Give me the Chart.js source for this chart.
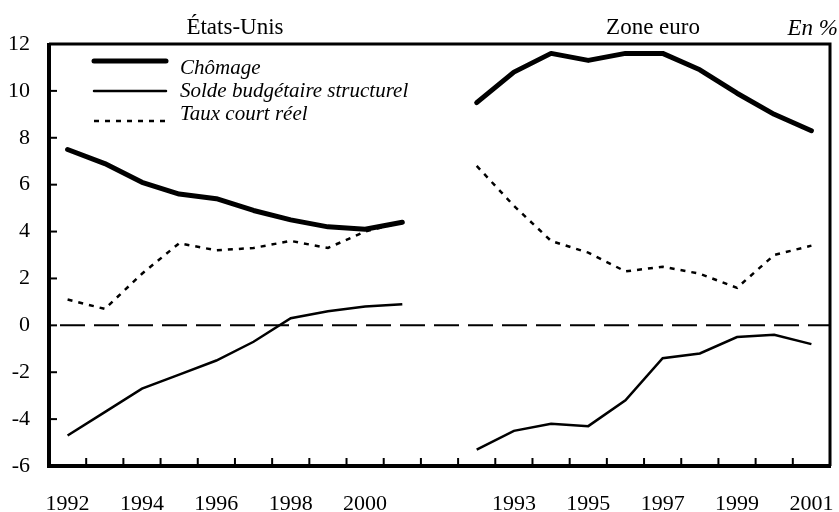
<!DOCTYPE html>
<html>
<head>
<meta charset="utf-8">
<script src="https://cdn.jsdelivr.net/npm/chart.js@4/dist/chart.umd.min.js"></script>
<style>
  body { margin: 0; background: #fff; }
</style>
</head>
<body>
<canvas id="myChart" width="839" height="512"></canvas>
<script>
// categories: US years, one empty slot, euro area years
const years = ['1992','1993','1994','1995','1996','1997','1998','1999','2000','2001'];
const categories = years.concat([''], years);
const tickLabels = ['1992','','1994','','1996','','1998','','2000','','',
                    '','1993','','1995','','1997','','1999','','2001'];

const chomageUS   = [7.5, 6.9, 6.1, 5.6, 5.4, 4.9, 4.5, 4.2, 4.1, 4.4];
const soldeUS     = [-4.7, -3.7, -2.7, -2.1, -1.5, -0.7, 0.3, 0.6, 0.8, 0.9];
const tauxUS      = [1.1, 0.7, 2.2, 3.5, 3.2, 3.3, 3.6, 3.3, 4.0, 4.4];
const chomageEuro = [9.5, 10.8, 11.6, 11.3, 11.6, 11.6, 10.9, 9.9, 9.0, 8.3];
const soldeEuro   = [-5.3, -4.5, -4.2, -4.3, -3.2, -1.4, -1.2, -0.5, -0.4, -0.8];
const tauxEuro    = [6.8, 5.1, 3.6, 3.1, 2.3, 2.5, 2.2, 1.6, 3.0, 3.4];

const seriesNames = ['Chômage', 'Solde budgétaire structurel', 'Taux court réel'];
const panelTitles = ['États-Unis', 'Zone euro'];

const FONT = "'Liberation Serif', 'Times New Roman', serif";

function join(us, eu) { return us.concat([null], eu); }

// frame, inner ticks, zero line, titles and legend
const decor = {
  id: 'decor',
  beforeDatasetsDraw(chart) {
    const { ctx, chartArea: a, scales: { y } } = chart;
    ctx.save();
    // zero line
    const y0 = y.getPixelForValue(0);
    ctx.strokeStyle = '#000';
    ctx.lineWidth = 2;
    ctx.setLineDash([25, 9]);
    ctx.lineDashOffset = -11;
    ctx.beginPath();
    ctx.moveTo(a.left, y0);
    ctx.lineTo(a.right, y0);
    ctx.stroke();
    ctx.restore();
  },
  afterDraw(chart) {
    const { ctx, chartArea: a, scales: { x, y } } = chart;
    ctx.save();
    ctx.strokeStyle = '#000';
    ctx.setLineDash([]);
    // frame
    ctx.lineWidth = 3;
    ctx.beginPath();
    ctx.moveTo(a.left, a.top);
    ctx.lineTo(a.right, a.top);
    ctx.lineTo(a.right, a.bottom);
    ctx.stroke();
    ctx.lineWidth = 4;
    ctx.beginPath();
    ctx.moveTo(a.left, a.top - 1);
    ctx.lineTo(a.left, a.bottom);
    ctx.lineTo(a.right + 1, a.bottom);
    ctx.stroke();
    // inner y ticks
    ctx.lineWidth = 2;
    y.ticks.forEach((t, i) => {
      const py = y.getPixelForTick(i);
      ctx.beginPath();
      ctx.moveTo(a.left, py);
      ctx.lineTo(a.left + 8, py);
      ctx.stroke();
    });
    // inner x ticks between categories
    for (let i = 1; i < categories.length; i++) {
      const px = (x.getPixelForValue(i - 1) + x.getPixelForValue(i)) / 2;
      ctx.beginPath();
      ctx.moveTo(px, a.bottom);
      ctx.lineTo(px, a.bottom - 8);
      ctx.stroke();
    }
    // panel titles
    ctx.fillStyle = '#000';
    ctx.font = '23px ' + FONT;
    ctx.textAlign = 'center';
    ctx.textBaseline = 'alphabetic';
    const usMid = (x.getPixelForValue(0) + x.getPixelForValue(9)) / 2;
    const euMid = (x.getPixelForValue(11) + x.getPixelForValue(20)) / 2 + 9;
    ctx.fillText(panelTitles[0], usMid, 34);
    ctx.fillText(panelTitles[1], euMid, 34);
    ctx.font = 'italic 23px ' + FONT;
    ctx.textAlign = 'right';
    ctx.fillText('En %', 838, 35);
    // legend
    const lineY = [61, 91, 121];
    const textY = [74, 97, 120];
    ctx.font = 'italic 21px ' + FONT;
    ctx.textAlign = 'left';
    chart.data.datasets.forEach((ds, i) => {
      ctx.lineWidth = ds.borderWidth;
      ctx.setLineDash(ds.borderDash || []);
      ctx.lineCap = ds.borderDash ? 'butt' : 'round';
      ctx.beginPath();
      ctx.moveTo(94, lineY[i]);
      ctx.lineTo(166, lineY[i]);
      ctx.stroke();
      ctx.fillText(ds.label, 180, textY[i]);
    });
    ctx.restore();
  }
};

new Chart(document.getElementById('myChart'), {
  type: 'line',
  data: {
    labels: categories,
    datasets: [
      { label: seriesNames[0], data: join(chomageUS, chomageEuro),
        borderColor: '#000', borderWidth: 5, borderCapStyle: 'round', borderJoinStyle: 'round' },
      { label: seriesNames[1], data: join(soldeUS, soldeEuro),
        borderColor: '#000', borderWidth: 2.5 },
      { label: seriesNames[2], data: join(tauxUS, tauxEuro),
        borderColor: '#000', borderWidth: 2.5, borderDash: [5, 6] }
    ]
  },
  options: {
    responsive: false,
    animation: false,
    spanGaps: false,
    elements: { point: { radius: 0 }, line: { tension: 0, fill: false } },
    layout: { padding: { top: 44, right: 9, left: 0, bottom: 0 } },
    plugins: { legend: { display: false }, tooltip: { enabled: false } },
    scales: {
      x: {
        offset: true,
        grid: { display: false, drawTicks: false },
        border: { display: false },
        ticks: {
          autoSkip: false, maxRotation: 0, padding: 25, color: '#000',
          font: { family: FONT, size: 22 },
          callback: (v, i) => tickLabels[i]
        },
        afterFit: s => { s.height = 46; s.paddingLeft = 0; s.paddingRight = 0; }
      },
      y: {
        min: -6, max: 12,
        grid: { display: false, drawTicks: false },
        border: { display: false },
        ticks: { stepSize: 2, padding: 19, color: '#000', font: { family: FONT, size: 22 } },
        afterFit: s => { s.width = 49; }
      }
    }
  },
  plugins: [decor]
});
</script>
</body>
</html>
